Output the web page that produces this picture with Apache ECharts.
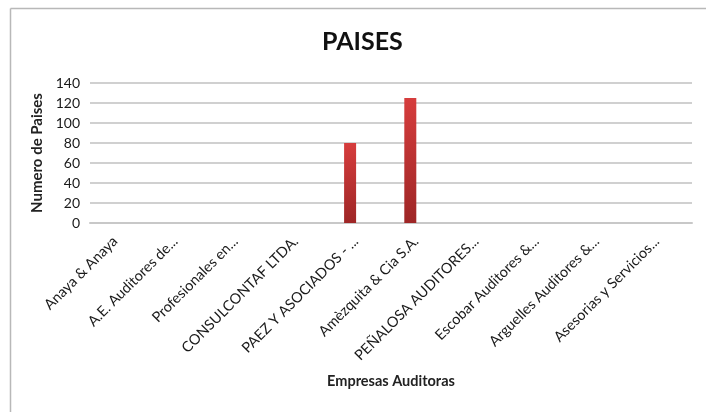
<!DOCTYPE html>
<html>
<head>
<meta charset="utf-8">
<style>html,body{margin:0;padding:0;background:#fff;}#c{width:706px;height:412px;}</style>
<script src="https://cdn.jsdelivr.net/npm/echarts@6/dist/echarts.min.js"></script>
</head>
<body>
<div id="c"></div>
<script>
const categories = ["Anaya & Anaya","A.E. Auditores de...","Profesionales en...","CONSULCONTAF LTDA.","PAEZ Y ASOCIADOS - ...","Amèzquita & Cia S.A.","PEÑALOSA AUDITORES...","Escobar Auditores &...","Arguelles Auditores &...","Asesorias y Servicios..."];
const paises = [null, null, null, null, 80, 125, null, null, null, null];
const emptySeries = [null, null, null, null, null, null, null, null, null, null];
const yTicks = [0, 20, 40, 60, 80, 100, 120, 140];

const chart = echarts.init(document.getElementById('c'), null, {renderer: 'canvas'});
const font = 'Lato, "Open Sans", sans-serif';
chart.setOption({
  animation: false,
  backgroundColor: '#ffffff',
  title: {
    text: 'PAISES', left: 317, top: 24,
    textStyle: {fontFamily: font, fontSize: 25, fontWeight: 'bold', color: '#111'}
  },
  graphic: [
    {type: 'line', shape: {x1: 10.5, y1: 8.5, x2: 10.5, y2: 412}, style: {stroke: '#b8b8b8', lineWidth: 1.5}},
    {type: 'line', shape: {x1: 10.5, y1: 8.5, x2: 706, y2: 8.5}, style: {stroke: '#b8b8b8', lineWidth: 1.5}}
  ],
  grid: {left: 90, right: 14, top: 83, bottom: 189},
  xAxis: {
    type: 'category', data: categories,
    name: 'Empresas Auditoras', nameLocation: 'middle', nameGap: 151,
    nameTextStyle: {fontFamily: font, fontSize: 14.5, fontWeight: 'bold', color: '#222'},
    axisLine: {lineStyle: {color: '#c8c8c8', width: 2}},
    axisTick: {show: false},
    axisLabel: {rotate: 45, interval: 0, margin: 11, padding: [0, 7, 0, 0], fontFamily: font, fontSize: 14.5, color: '#1a1a1a'}
  },
  yAxis: {
    type: 'value', min: 0, max: 140, interval: 20,
    name: 'Numero de Paises', nameLocation: 'middle', nameGap: 44, nameRotate: 90,
    nameTextStyle: {fontFamily: font, fontSize: 15, fontWeight: 'bold', color: '#222'},
    axisLine: {show: false}, axisTick: {show: false},
    axisLabel: {margin: 10, fontFamily: font, fontSize: 14, color: '#1a1a1a',
      formatter: v => yTicks.includes(v) ? String(v) : ''},
    splitLine: {lineStyle: {color: '#d0d0d0', width: 2}}
  },
  series: [
    {
      name: 'Paises', type: 'bar', data: paises, barWidth: 12, barGap: '80%',
      itemStyle: {color: new echarts.graphic.LinearGradient(0, 0, 0, 1, [
        {offset: 0, color: '#d63d3d'}, {offset: 1, color: '#9e2626'}])}
    },
    {name: 'vacio', type: 'bar', data: emptySeries, barWidth: 12}
  ]
});
</script>
</body>
</html>
